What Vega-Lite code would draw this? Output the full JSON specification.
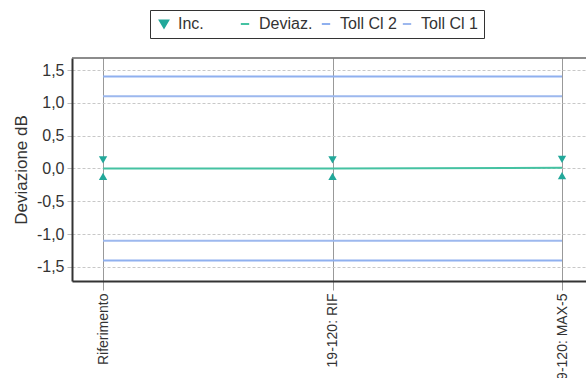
{
  "$schema": "https://vega.github.io/schema/vega-lite/v6.json",
  "width": 514,
  "height": 223,
  "autosize": {"type": "none"},
  "padding": {"left": 72, "top": 58, "right": 0, "bottom": 97},
  "background": "white",
  "config": {
    "font": "Liberation Sans",
    "view": {"stroke": null},
    "locale": {"number": {"decimal": ",", "thousands": ".", "grouping": [3], "currency": ["", " €"], "minus": "-"}},
    "axis": {"labelFont": "Liberation Sans", "titleFont": "Liberation Sans", "labelColor": "#333", "titleColor": "#333"},
    "axisY": {"labelOverlap": false}
  },
  "datasets": {
    "lines": [
      {"cat": "Riferimento", "series": "Deviaz.", "grp": "dev", "v": 0.0},
      {"cat": "19-120: RIF", "series": "Deviaz.", "grp": "dev", "v": 0.0},
      {"cat": "19-120: MAX-5", "series": "Deviaz.", "grp": "dev", "v": 0.01},
      {"cat": "Riferimento", "series": "Toll Cl 2", "grp": "t2hi", "v": 1.4},
      {"cat": "19-120: RIF", "series": "Toll Cl 2", "grp": "t2hi", "v": 1.4},
      {"cat": "19-120: MAX-5", "series": "Toll Cl 2", "grp": "t2hi", "v": 1.4},
      {"cat": "Riferimento", "series": "Toll Cl 2", "grp": "t2lo", "v": -1.4},
      {"cat": "19-120: RIF", "series": "Toll Cl 2", "grp": "t2lo", "v": -1.4},
      {"cat": "19-120: MAX-5", "series": "Toll Cl 2", "grp": "t2lo", "v": -1.4},
      {"cat": "Riferimento", "series": "Toll Cl 1", "grp": "t1hi", "v": 1.1},
      {"cat": "19-120: RIF", "series": "Toll Cl 1", "grp": "t1hi", "v": 1.1},
      {"cat": "19-120: MAX-5", "series": "Toll Cl 1", "grp": "t1hi", "v": 1.1},
      {"cat": "Riferimento", "series": "Toll Cl 1", "grp": "t1lo", "v": -1.1},
      {"cat": "19-120: RIF", "series": "Toll Cl 1", "grp": "t1lo", "v": -1.1},
      {"cat": "19-120: MAX-5", "series": "Toll Cl 1", "grp": "t1lo", "v": -1.1}
    ],
    "inc": [
      {"cat": "Riferimento", "series": "Inc.", "hi": 0.13, "lo": -0.12},
      {"cat": "19-120: RIF", "series": "Inc.", "hi": 0.13, "lo": -0.12},
      {"cat": "19-120: MAX-5", "series": "Inc.", "hi": 0.14, "lo": -0.11}
    ],
    "frame": [{"top": 1.683}]
  },
  "layer": [
    {
      "data": {"name": "lines"},
      "mark": {"type": "line", "strokeWidth": 2},
      "encoding": {
        "x": {
          "field": "cat", "type": "ordinal", "sort": ["Riferimento", "19-120: RIF", "19-120: MAX-5"],
          "scale": {"type": "point", "padding": 0.1199, "align": 0.564},
          "axis": {"title": null, "labelAngle": 270, "labelFontSize": 14, "labelPadding": 3, "tickSize": 9, "tickColor": "#999", "domain": true, "domainColor": "#333", "domainWidth": 2, "grid": true, "gridColor": "#999", "gridWidth": 1}
        },
        "y": {
          "field": "v", "type": "quantitative",
          "scale": {"domain": [-1.714, 1.683], "nice": false, "zero": false},
          "axis": {"title": "Deviazione dB", "titleFontSize": 17, "titleFontWeight": "normal", "titlePadding": 6, "values": [-1.5, -1, -0.5, 0, 0.5, 1, 1.5], "tickCount": 20, "format": ".1f", "labelOverlap": false, "labelFontSize": 16, "labelPadding": 3, "tickSize": 5, "tickColor": "#bbb", "domain": true, "domainColor": "#333", "domainWidth": 2, "grid": true, "gridColor": "#c8c8c8", "gridDash": [3, 2]}
        },
        "detail": {"field": "grp"},
        "color": {
          "field": "series", "type": "nominal",
          "scale": {"domain": ["Inc.", "Deviaz.", "Toll Cl 2", "Toll Cl 1"], "range": ["#22a89a", "#45c2a2", "#8fb0ef", "#9db8ee"]},
          "legend": {
            "title": null, "orient": "none", "legendX": 78, "legendY": -48, "direction": "horizontal", "columns": 4, "gridAlign": "all",
            "strokeColor": "#333", "fillColor": "white", "padding": 6, "labelFontSize": 16, "labelFont": "Liberation Sans", "labelColor": "#333",
            "symbolStrokeWidth": 2, "symbolSize": 70, "columnPadding": 1, "labelOffset": 6,
            "encode": {"symbols": {"update": {"stroke": {"scale": "color", "field": "value"}, "fill": {"scale": "color", "field": "value"}}}}
          }
        },
        "shape": {
          "field": "series", "type": "nominal",
          "scale": {"domain": ["Inc.", "Deviaz.", "Toll Cl 2", "Toll Cl 1"], "range": ["triangle-down", "stroke", "stroke", "stroke"]},
          "legend": null
        }
      }
    },
    {
      "data": {"name": "inc"},
      "mark": {"type": "point", "filled": true, "opacity": 1, "size": 70},
      "encoding": {
        "x": {"field": "cat", "type": "ordinal", "sort": ["Riferimento", "19-120: RIF", "19-120: MAX-5"]},
        "y": {"field": "hi", "type": "quantitative"},
        "color": {"field": "series", "type": "nominal"},
        "shape": {"field": "series", "type": "nominal"}
      }
    },
    {
      "data": {"name": "inc"},
      "mark": {"type": "point", "filled": true, "opacity": 1, "size": 70, "shape": "triangle-up", "color": "#22a89a"},
      "encoding": {
        "x": {"field": "cat", "type": "ordinal", "sort": ["Riferimento", "19-120: RIF", "19-120: MAX-5"]},
        "y": {"field": "lo", "type": "quantitative"}
      }
    },
    {
      "data": {"name": "frame"},
      "mark": {"type": "rule", "color": "#666", "strokeWidth": 1.5},
      "encoding": {"y": {"field": "top", "type": "quantitative"}}
    }
  ]
}
